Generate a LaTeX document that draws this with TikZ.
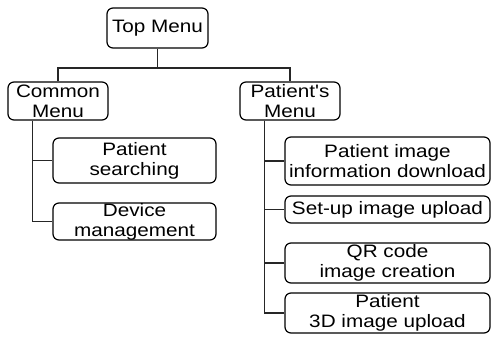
\documentclass[tikz,border=0pt]{standalone}
\usepackage{fontspec}
\usepackage{tikz}
\usetikzlibrary{positioning}
\newfontfamily\menufont[FakeStretch=1.15]{Liberation Sans}

\begin{document}
\begin{tikzpicture}[x=1pt, y=-1pt,
      box/.style={rectangle, rounded corners=6pt, draw=black, line width=1.2pt,
                  inner sep=0pt, align=center,
                  font=\menufont\fontsize{18}{20}\selectfont},
      link/.style={line width=1.2pt, color=black!85}
    ]
      \useasboundingbox (0,0) rectangle (491,345);
      \node[box, minimum width=101pt, minimum height=40pt] (top) at (157.5,28) {Top Menu};
      \node[box, minimum width=100pt, minimum height=38pt] (cmenu) at (58,101) {Common\\Menu};
      \node[box, minimum width=100pt, minimum height=38pt] (pmenu) at (290,101) {Patient's\\Menu};
      % common menu items
      \node[box, minimum width=163pt, minimum height=45pt] (search) at (134.5,160.5) {Patient\\searching};
      \node[box, minimum width=163pt, minimum height=37pt] (device) at (134.5,221.5) {Device\\management};
      % patient's menu items
      \node[box, minimum width=205pt, minimum height=48pt] (download) at (387.5,161) {Patient image\\information download};
      \node[box, minimum width=205pt, minimum height=27pt] (setup) at (387.5,209.5) {Set-up image upload};
      \node[box, minimum width=205pt, minimum height=40pt] (qrcode) at (387.5,263) {QR code\\image creation};
      \node[box, minimum width=205pt, minimum height=40pt] (upload3d) at (387.5,313) {Patient\\3D image upload};
      \coordinate (split) at (157.5,68);
      \draw[link] (top) -- (split);
      \draw[link] (cmenu.north) |- (split) -| (pmenu.north);
      \draw[link] (cmenu.south west) ++(25,0) |- (search.west);
      \draw[link] (cmenu.south west) ++(25,0) |- (device.west);
      \draw[link] (pmenu.south west) ++(25,0) |- (download.west);
      \draw[link] (pmenu.south west) ++(25,0) |- (setup.west);
      \draw[link] (pmenu.south west) ++(25,0) |- (qrcode.west);
      \draw[link] (pmenu.south west) ++(25,0) |- (upload3d.west);
    \end{tikzpicture}
\end{document}
